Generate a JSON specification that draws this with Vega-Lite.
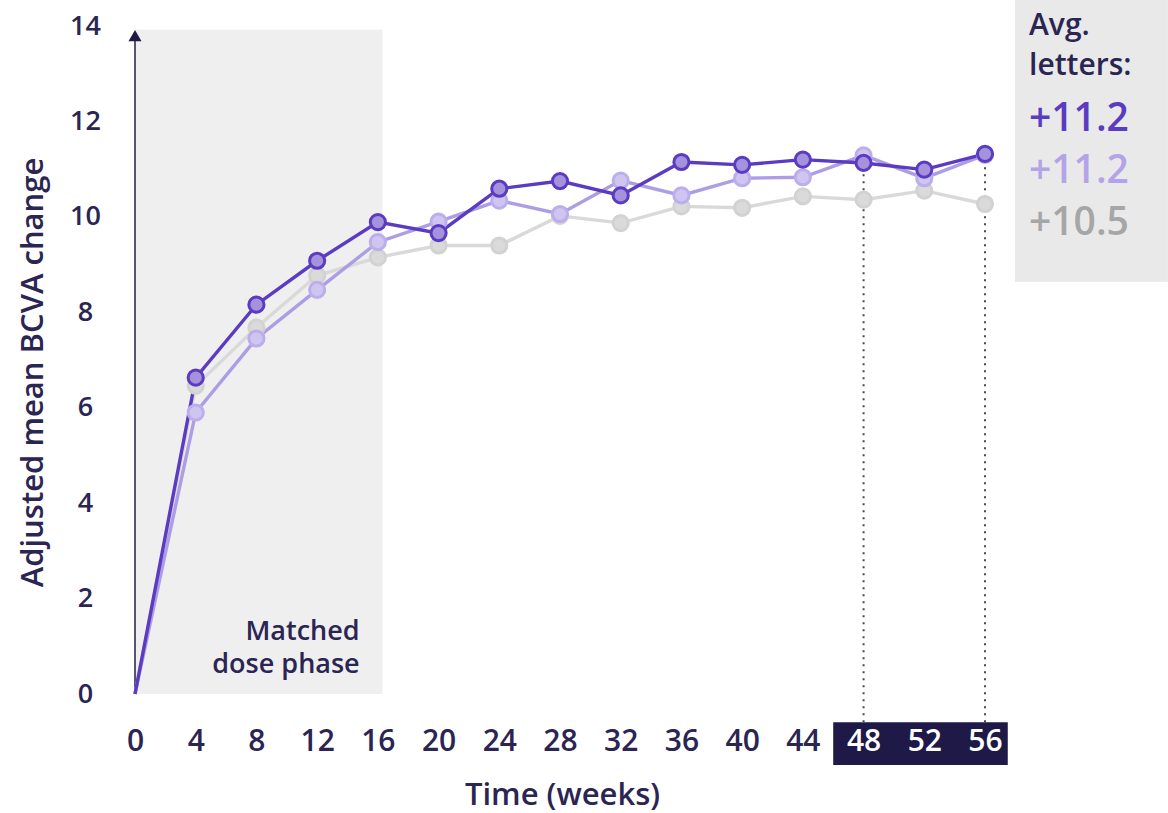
{
  "$schema": "https://vega.github.io/schema/vega-lite/v6.json",
  "width": 850,
  "height": 668,
  "autosize": "none",
  "padding": {"left": 135, "top": 26, "right": 183, "bottom": 119},
  "background": "#ffffff",
  "config": {
    "view": {"stroke": null},
    "font": "Open Sans",
    "axis": {"labelFont": "Open Sans", "titleFont": "Open Sans"}
  },
  "datasets": {
    "bcva": [
      {"week": 0, "change": 0, "series": "s1"},
      {"week": 4, "change": 6.46, "series": "s1"},
      {"week": 8, "change": 7.68, "series": "s1"},
      {"week": 12, "change": 8.77, "series": "s1"},
      {"week": 16, "change": 9.15, "series": "s1"},
      {"week": 20, "change": 9.4, "series": "s1"},
      {"week": 24, "change": 9.4, "series": "s1"},
      {"week": 28, "change": 10.02, "series": "s1"},
      {"week": 32, "change": 9.87, "series": "s1"},
      {"week": 36, "change": 10.22, "series": "s1"},
      {"week": 40, "change": 10.19, "series": "s1"},
      {"week": 44, "change": 10.43, "series": "s1"},
      {"week": 48, "change": 10.36, "series": "s1"},
      {"week": 52, "change": 10.55, "series": "s1"},
      {"week": 56, "change": 10.27, "series": "s1"},
      {"week": 0, "change": 0, "series": "s2"},
      {"week": 4, "change": 5.9, "series": "s2"},
      {"week": 8, "change": 7.45, "series": "s2"},
      {"week": 12, "change": 8.47, "series": "s2"},
      {"week": 16, "change": 9.47, "series": "s2"},
      {"week": 20, "change": 9.9, "series": "s2"},
      {"week": 24, "change": 10.34, "series": "s2"},
      {"week": 28, "change": 10.06, "series": "s2"},
      {"week": 32, "change": 10.76, "series": "s2"},
      {"week": 36, "change": 10.45, "series": "s2"},
      {"week": 40, "change": 10.81, "series": "s2"},
      {"week": 44, "change": 10.83, "series": "s2"},
      {"week": 48, "change": 11.29, "series": "s2"},
      {"week": 52, "change": 10.81, "series": "s2"},
      {"week": 56, "change": 11.3, "series": "s2"},
      {"week": 0, "change": 0, "series": "s3"},
      {"week": 4, "change": 6.63, "series": "s3"},
      {"week": 8, "change": 8.16, "series": "s3"},
      {"week": 12, "change": 9.08, "series": "s3"},
      {"week": 16, "change": 9.89, "series": "s3"},
      {"week": 20, "change": 9.66, "series": "s3"},
      {"week": 24, "change": 10.59, "series": "s3"},
      {"week": 28, "change": 10.75, "series": "s3"},
      {"week": 32, "change": 10.45, "series": "s3"},
      {"week": 36, "change": 11.15, "series": "s3"},
      {"week": 40, "change": 11.09, "series": "s3"},
      {"week": 44, "change": 11.2, "series": "s3"},
      {"week": 48, "change": 11.13, "series": "s3"},
      {"week": 52, "change": 10.99, "series": "s3"},
      {"week": 56, "change": 11.32, "series": "s3"}
    ]
  },
  "layer": [
    {
      "data": {"values": [{"x0": 0, "x1": 16.3, "y0": 0, "y1": 13.92}]},
      "mark": {"type": "rect", "color": "#efefef"},
      "encoding": {
        "x": {"field": "x0", "type": "quantitative"},
        "x2": {"field": "x1"},
        "y": {"field": "y0", "type": "quantitative"},
        "y2": {"field": "y1"}
      }
    },
    {
      "data": {"values": [{"x0": 57.97, "x1": 68.05, "y0": 8.64, "y1": 14.6}]},
      "mark": {"type": "rect", "color": "#e9e9e9"},
      "encoding": {
        "x": {"field": "x0", "type": "quantitative"},
        "x2": {"field": "x1"},
        "y": {"field": "y0", "type": "quantitative"},
        "y2": {"field": "y1"}
      }
    },
    {
      "data": {"values": [{"x0": 46, "x1": 57.5, "y0": -1.49, "y1": -0.59}]},
      "mark": {"type": "rect", "color": "#1e1947"},
      "encoding": {
        "x": {"field": "x0", "type": "quantitative"},
        "x2": {"field": "x1"},
        "y": {"field": "y0", "type": "quantitative"},
        "y2": {"field": "y1"}
      }
    },
    {
      "data": {"values": [{"x": 0, "y0": 0, "y1": 13.7}]},
      "mark": {"type": "rule", "color": "#57546f", "strokeWidth": 2},
      "encoding": {
        "x": {"field": "x", "type": "quantitative"},
        "y": {"field": "y0", "type": "quantitative"},
        "y2": {"field": "y1"}
      }
    },
    {
      "data": {"values": [{"x": 0, "y": 13.8}]},
      "mark": {"type": "point", "shape": "triangle-up", "filled": true, "color": "#1e1947", "size": 170, "opacity": 1},
      "encoding": {
        "x": {"field": "x", "type": "quantitative"},
        "y": {"field": "y", "type": "quantitative"}
      }
    },
    {
      "data": {"values": [{"x": 48, "y0": -0.59, "y1": 11.13}, {"x": 56, "y0": -0.59, "y1": 11.32}]},
      "mark": {"type": "rule", "color": "#4a4a4a", "strokeWidth": 2, "strokeDash": [2, 5]},
      "encoding": {
        "x": {"field": "x", "type": "quantitative"},
        "y": {"field": "y0", "type": "quantitative"},
        "y2": {"field": "y1"}
      }
    },
    {
      "data": {"name": "bcva"},
      "mark": {"type": "line", "strokeWidth": 3.4},
      "encoding": {
        "x": {
          "field": "week",
          "type": "quantitative",
          "scale": {"domain": [0, 56], "nice": false, "zero": false},
          "axis": {
            "values": [0, 4, 8, 12, 16, 20, 24, 28, 32, 36, 40, 44, 48, 52, 56],
            "domain": false,
            "ticks": false,
            "tickSize": 0,
            "grid": false,
            "labelFontSize": 30,
            "labelFontWeight": 600,
            "labelColor": {"condition": {"test": "datum.value >= 48", "value": "#ffffff"}, "value": "#2a2552"},
            "labelPadding": 32,
            "labelFlush": false,
            "labelOverlap": false,
            "title": "Time (weeks)",
            "titleFontSize": 31,
            "titleFontWeight": 600,
            "titleColor": "#2a2552",
            "titleX": 427,
            "titleY": 101,
            "titleBaseline": "middle",
            "zindex": 1
          }
        },
        "y": {
          "field": "change",
          "type": "quantitative",
          "scale": {"domain": [0, 14], "nice": false},
          "axis": {
            "values": [0, 2, 4, 6, 8, 10, 12, 14],
            "domain": false,
            "ticks": false,
            "tickSize": 0,
            "grid": false,
            "labelFontSize": 27,
            "labelFontWeight": 600,
            "labelColor": "#2a2552",
            "labelAlign": "center",
            "labelPadding": 50,
            "title": "Adjusted mean BCVA change",
            "titleFontSize": 31,
            "titleFontWeight": 600,
            "titleColor": "#2a2552",
            "titleX": -102,
            "titleY": 346,
            "titleBaseline": "middle"
          }
        },
        "color": {
          "field": "series",
          "type": "nominal",
          "scale": {"domain": ["s1", "s2", "s3"], "range": ["#d9d9d9", "#ad9de4", "#5a3bc2"]},
          "legend": null
        }
      }
    },
    {
      "data": {"name": "bcva"},
      "transform": [{"filter": "datum.week > 0"}],
      "mark": {"type": "point", "filled": false, "strokeWidth": 3, "size": 230, "opacity": 1},
      "encoding": {
        "x": {"field": "week", "type": "quantitative"},
        "y": {"field": "change", "type": "quantitative"},
        "stroke": {
          "field": "series",
          "type": "nominal",
          "scale": {"domain": ["s1", "s2", "s3"], "range": ["#d2d2d2", "#bcaeeb", "#5a3bc2"]},
          "legend": null
        },
        "fill": {
          "field": "series",
          "type": "nominal",
          "scale": {"domain": ["s1", "s2", "s3"], "range": ["#dadada", "#cfc5f1", "#a592dc"]},
          "legend": null
        }
      }
    },
    {
      "data": {"values": [
        {"x": 14.8, "y": 1.13, "label": "Matched"},
        {"x": 14.8, "y": 0.44, "label": "dose phase"}
      ]},
      "mark": {"type": "text", "align": "right", "baseline": "alphabetic", "fontSize": 27, "fontWeight": 600, "color": "#2a2552"},
      "encoding": {
        "x": {"field": "x", "type": "quantitative"},
        "y": {"field": "y", "type": "quantitative"},
        "text": {"field": "label"}
      }
    },
    {
      "data": {"values": [
        {"x": 58.9, "y": 13.82, "label": "Avg.", "size": 30, "col": "#2a2552"},
        {"x": 58.9, "y": 12.98, "label": "letters:", "size": 30, "col": "#2a2552"},
        {"x": 58.9, "y": 11.8, "label": "+11.2", "size": 39, "col": "#5a3bc2"},
        {"x": 58.9, "y": 10.7, "label": "+11.2", "size": 39, "col": "#b3a3e8"},
        {"x": 58.9, "y": 9.62, "label": "+10.5", "size": 39, "col": "#a6a6a6"}
      ]},
      "mark": {"type": "text", "align": "left", "baseline": "alphabetic", "fontWeight": 600},
      "encoding": {
        "x": {"field": "x", "type": "quantitative"},
        "y": {"field": "y", "type": "quantitative"},
        "text": {"field": "label"},
        "size": {"field": "size", "type": "quantitative", "scale": null, "legend": null},
        "color": {"field": "col", "type": "nominal", "scale": null, "legend": null}
      }
    }
  ]
}
